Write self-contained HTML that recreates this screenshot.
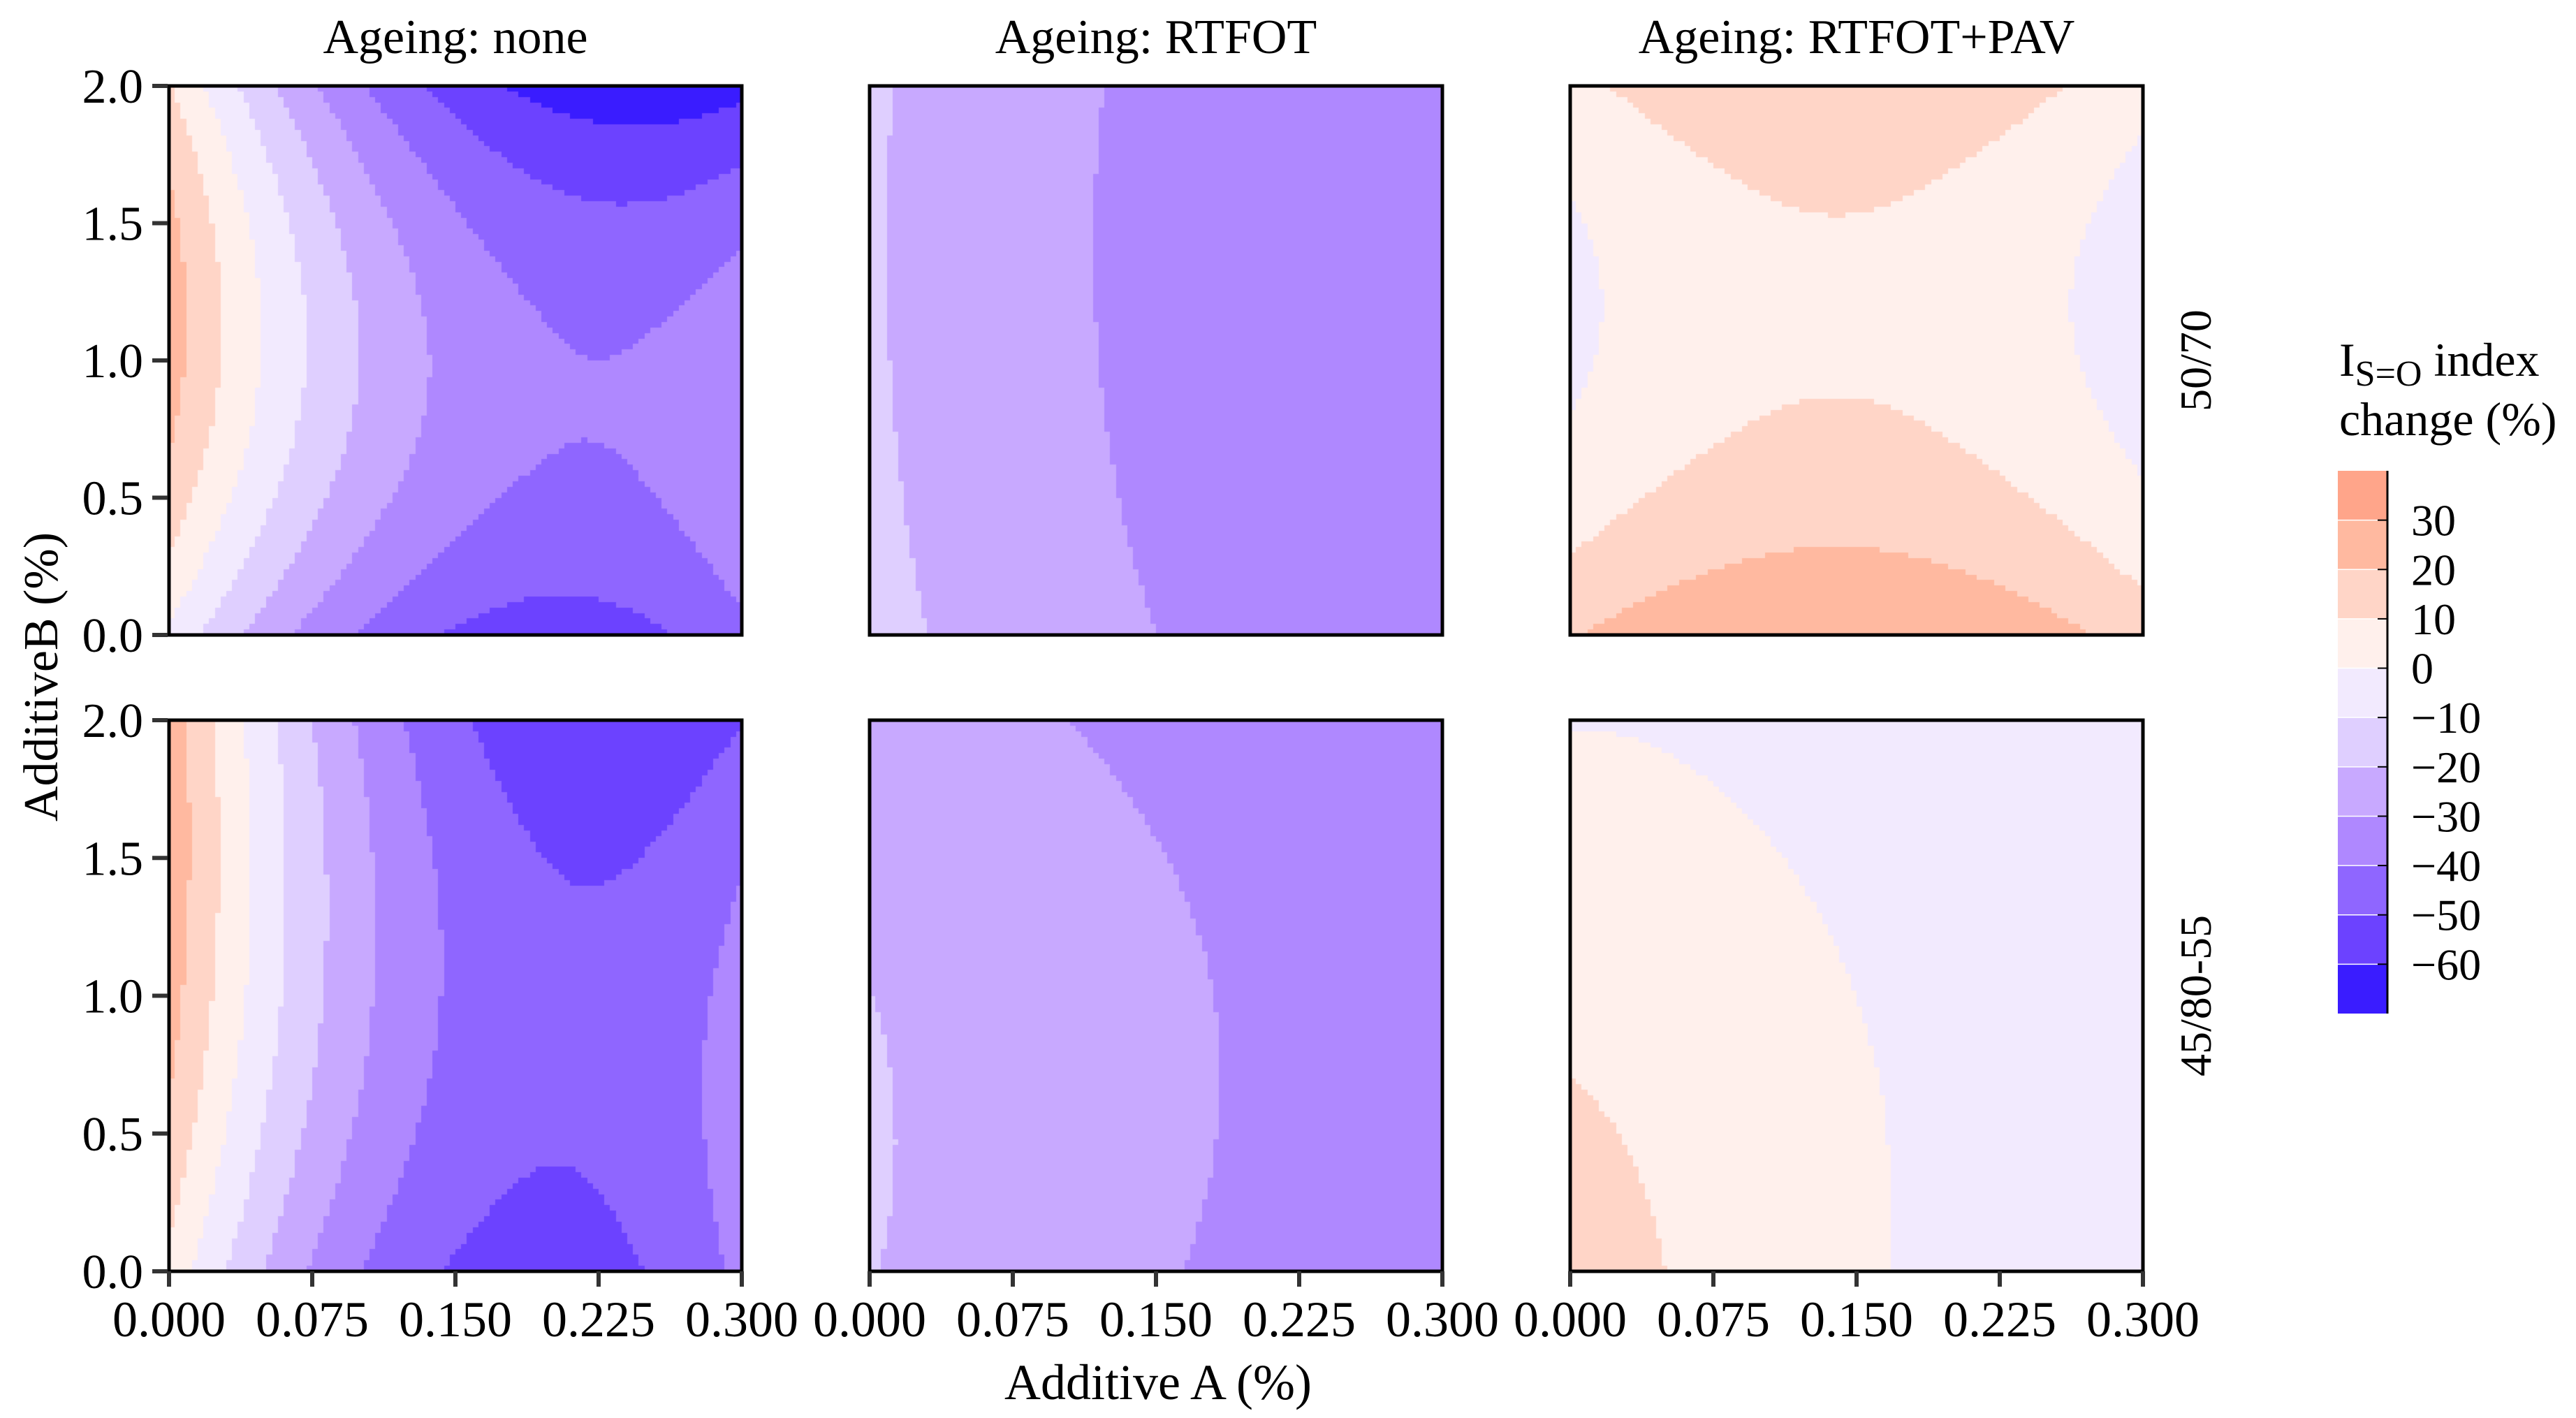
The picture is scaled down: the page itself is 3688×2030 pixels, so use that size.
<!DOCTYPE html>
<html><head><meta charset="utf-8"><style>
html,body{margin:0;padding:0;background:#fff;}
#wrap{position:relative;width:3688px;height:2030px;overflow:hidden;background:#fff;}
canvas{position:absolute;left:0;top:0;}
svg{position:absolute;left:0;top:0;}
text{font-family:"Liberation Serif",serif;fill:#000;}
</style></head><body>
<div id="wrap">
<canvas id="cv" width="3688" height="2030"></canvas>
<svg id="sv" width="3688" height="2030"></svg>
</div>
<script>
// ---- data ----
const ageing = ['none', 'RTFOT', 'RTFOT+PAV'];
const binders = ['50/70', '45/80-55'];
// response-surface coefficients per panel (row-major: 50/70 none,RTFOT,PAV; 45/80-55 none,RTFOT,PAV)
// z = c0 + cu*u + cv*v + cuu*u^2 + cvv*v^2 + cuv*u*v + cuuu*u^3 ; u=(A-0.15)/0.15, v=B-1
const coefConst = [-32.8, -32.06, 8.9, -41.6, -28.3, -0.013];
const coefU     = [-28.7, -9.58, -1.75, -30.24, -8.4, -9.47];
const coefV     = [-1.75, -0.95, -6.0, 1.5, -1.6, -3.256];
const coefUU    = [28.7, 3.64, -12.5, 36, 0, 2.58];
const coefVV    = [-20, 1.15, 15.04, -8, -2.4, -1.823];
const coefUV    = [-8.25, 0, 0, -8, 1.0, 3.4];
const coefUUU   = [0, 0, 0, 0, 0, 3.87];
const levels = [-70, -60, -50, -40, -30, -20, -10, 0, 10, 20, 30, 40];
const levelColors = ['#3A1CFF','#6C42FF','#8F66FF','#AF88FF','#C8A9FF','#DFCFFF','#F2EAFE','#FFF0EC','#FFD5C7','#FFB9A0','#FFA58A'];
const xTicks = [0, 0.075, 0.15, 0.225, 0.3];
const xTickLabels = ['0.000','0.075','0.150','0.225','0.300'];
const yTicks = [0, 0.5, 1.0, 1.5, 2.0];
const yTickLabels = ['0.0','0.5','1.0','1.5','2.0'];
const legendLabels = ['30','20','10','0','\u221210','\u221220','\u221230','\u221240','\u221250','\u221260'];

// ---- layout ----
const colX = [242, 1245, 2248], panelW = 820;
const rowY = [123, 1031], panelH = [786, 789];
const NX = 100, NY = 100;
const ns = 'http://www.w3.org/2000/svg';
const sv = document.getElementById('sv');
const ctx = document.getElementById('cv').getContext('2d');
function el(tag, attrs, parent) {
  const e = document.createElementNS(ns, tag);
  for (const k in attrs) e.setAttribute(k, attrs[k]);
  (parent || sv).appendChild(e);
  return e;
}
function xScale(c, A) { return colX[c] + A / 0.3 * panelW; }
function yScale(r, B) { return rowY[r] + panelH[r] - B / 2 * panelH[r]; }
function colorFor(z) {
  let i = 0;
  while (i < levelColors.length - 1 && z >= levels[i + 1]) i++;
  return levelColors[i];
}
function zAt(p, A, B) {
  const u = (A - 0.15) / 0.15, v = B - 1;
  return coefConst[p] + coefU[p]*u + coefV[p]*v + coefUU[p]*u*u + coefVV[p]*v*v + coefUV[p]*u*v + coefUUU[p]*u*u*u;
}

// heatmaps
for (let r = 0; r < 2; r++) {
  for (let c = 0; c < 3; c++) {
    const p = r * 3 + c;
    for (let i = 0; i < NX; i++) {
      const A0 = 0.3 * i / NX, A1 = 0.3 * (i + 1) / NX;
      const x0 = Math.round(xScale(c, A0)), x1 = Math.round(xScale(c, A1));
      for (let j = 0; j < NY; j++) {
        const B0 = 2 * j / NY, B1 = 2 * (j + 1) / NY;
        const y0 = Math.round(yScale(r, B1)), y1 = Math.round(yScale(r, B0));
        ctx.fillStyle = colorFor(zAt(p, (A0 + A1) / 2, (B0 + B1) / 2));
        ctx.fillRect(x0, y0, x1 - x0, y1 - y0);
      }
    }
    const fr = el('rect', {x: colX[c], y: rowY[r], width: panelW, height: panelH[r], fill: 'none', stroke: '#000', 'stroke-width': 5});
    
    
  }
}

// strip titles
ageing.forEach((a, c) => {
  const t = el('text', {x: colX[c] + panelW / 2, y: 76, 'font-size': 70, 'text-anchor': 'middle'});
  t.textContent = 'Ageing: ' + a;
  
  
});
// row labels
binders.forEach((b, r) => {
  const cy = rowY[r] + panelH[r] / 2;
  const t = el('text', {x: 3165, y: cy, 'font-size': 64, 'text-anchor': 'middle', transform: 'rotate(-90 3165 ' + cy + ')'});
  t.textContent = b;
  
  
});
// y ticks
for (let r = 0; r < 2; r++) {
  yTicks.forEach((v, k) => {
    const y = yScale(r, v);
    const ln = el('line', {x1: 218, x2: 240, y1: y, y2: y, stroke: '#333', 'stroke-width': 6});
    
    
    const t = el('text', {x: 205, y: y + 24, 'font-size': 70, 'text-anchor': 'end'});
    t.textContent = yTickLabels[k];
    
    
  });
}
// x ticks
for (let c = 0; c < 3; c++) {
  xTicks.forEach((v, k) => {
    const x = xScale(c, v);
    const ln = el('line', {x1: x, x2: x, y1: 1820, y2: 1842, stroke: '#333', 'stroke-width': 6});
    
    
    const t = el('text', {x: x, y: 1913, 'font-size': 72, 'text-anchor': 'middle'});
    t.textContent = xTickLabels[k];
    
    
  });
}
// axis titles
const xt = el('text', {x: 1658, y: 2003, 'font-size': 72, 'text-anchor': 'middle'});
xt.textContent = 'Additive A (%)';


const yt = el('text', {x: 82, y: 969, 'font-size': 70, 'text-anchor': 'middle', transform: 'rotate(-90 82 969)'});
yt.textContent = 'AdditiveB (%)';



// legend
const lt = el('text', {x: 3349, y: 538, 'font-size': 68});


const s1 = el('tspan', {}, lt); s1.textContent = 'I';
const s2 = el('tspan', {'font-size': 52, dy: 14}, lt); s2.textContent = 'S=O';
const s3 = el('tspan', {dy: -14}, lt); s3.textContent = ' index';
const lt2 = el('text', {x: 3349, y: 623, 'font-size': 68});
lt2.textContent = 'change (%)';


const cbTop = 674, cbBot = 1451, cbX = 3347, cbW = 71;
const binH = (cbBot - cbTop) / levelColors.length;
for (let i = 0; i < levelColors.length; i++) {
  const idx = levelColors.length - 1 - i;
  const rc = el('rect', {x: cbX, y: cbTop + i * binH, width: cbW, height: binH, fill: levelColors[idx]});
  
  
  if (i > 0) {
    const sep = el('line', {x1: cbX, x2: cbX + cbW, y1: cbTop + i * binH, y2: cbTop + i * binH, stroke: '#fff', 'stroke-width': 1.5});
    
    
  }
}
legendLabels.forEach((lab, k) => {
  const y = cbTop + (k + 1) * binH;
  const tk = el('line', {x1: cbX + cbW - 14, x2: cbX + cbW, y1: y, y2: y, stroke: '#000', 'stroke-width': 2});
  
  
  const t = el('text', {x: 3452, y: y + 22, 'font-size': 64});
  t.textContent = lab;
  
  
});
const vl = el('line', {x1: cbX + cbW, x2: cbX + cbW, y1: cbTop, y2: cbBot, stroke: '#000', 'stroke-width': 3});


</script>
</body></html>
